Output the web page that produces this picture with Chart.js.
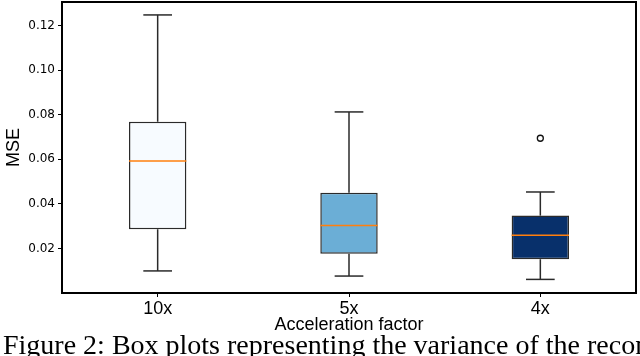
<!DOCTYPE html>
<html>
<head>
<meta charset="utf-8">
<script src="https://cdn.jsdelivr.net/npm/chart.js@4/dist/chart.umd.min.js"></script>
<style>
  html, body { margin: 0; padding: 0; background: #fff; overflow: hidden; }
  #wrap { position: relative; width: 640px; height: 356px; overflow: hidden; }
  #box { position: absolute; left: 0; top: 0; width: 640px; height: 356px; }
  #caption { position: absolute; left: 3px; top: 331px; white-space: nowrap;
    font-family: 'Liberation Serif', 'Times New Roman', serif; font-size: 28px; line-height: 28px; color: #000; }
</style>
</head>
<body>
<div id="wrap">
  <div id="box"><canvas id="c"></canvas></div>
  <div id="caption">Figure 2: Box plots representing the variance of the reconstruction</div>
</div>
<script>
// ---- data ----
const categories   = ['10x', '5x', '4x'];
const whiskerLow   = [0.0099, 0.0076, 0.0061];
const q1           = [0.0286, 0.0176, 0.0151];
const median       = [0.0592, 0.0303, 0.0259];
const q3           = [0.0768, 0.0450, 0.0347];
const whiskerHigh  = [0.1247, 0.0812, 0.0453];
const outliers     = [[], [], [0.0694]];
const yTicks       = [0.02, 0.04, 0.06, 0.08, 0.10, 0.12];
const boxColors    = ['#f7fbff', '#6baed6', '#08306b'];

// ---- styling constants ----
const BOX_W = 0.3;      // box width in category units
const CAP_W = 0.15;     // cap width in category units
const EDGE = '#2a2a2a';
const MEDIAN_COLOR = '#ff7f0e';

const datasets = [];

// medians (on top)
categories.forEach((c, i) => {
  datasets.push({
    type: 'line', order: 0,
    data: [{x: i - BOX_W / 2, y: median[i]}, {x: i + BOX_W / 2, y: median[i]}],
    borderColor: MEDIAN_COLOR, borderWidth: 1.6, pointRadius: 0, fill: false
  });
});

// boxes
datasets.push({
  type: 'bar', order: 2,
  data: categories.map((c, i) => ({x: i, y: [q1[i], q3[i]]})),
  backgroundColor: boxColors,
  borderColor: EDGE, borderWidth: 1.5, borderSkipped: false,
  categoryPercentage: 1, barPercentage: BOX_W
});

// whiskers and caps
categories.forEach((c, i) => {
  const seg = (pts) => datasets.push({
    type: 'line', order: 3, data: pts,
    borderColor: EDGE, borderWidth: 1.5, pointRadius: 0, fill: false
  });
  seg([{x: i, y: q3[i]}, {x: i, y: whiskerHigh[i]}]);
  seg([{x: i, y: q1[i]}, {x: i, y: whiskerLow[i]}]);
  seg([{x: i - CAP_W / 2, y: whiskerHigh[i]}, {x: i + CAP_W / 2, y: whiskerHigh[i]}]);
  seg([{x: i - CAP_W / 2, y: whiskerLow[i]}, {x: i + CAP_W / 2, y: whiskerLow[i]}]);
});

// outliers
const outPts = [];
outliers.forEach((arr, i) => arr.forEach(v => outPts.push({x: i, y: v})));
datasets.push({
  type: 'line', order: 1, data: outPts, showLine: false,
  pointStyle: 'circle', pointRadius: 3, pointBorderWidth: 1.3,
  pointBorderColor: '#111', pointBackgroundColor: 'rgba(255,255,255,0)'
});

const framePlugin = {
  id: 'frame',
  afterDraw(chart) {
    const {ctx, chartArea: a} = chart;
    ctx.save();
    ctx.strokeStyle = '#000';
    ctx.lineWidth = 2;
    ctx.strokeRect(a.left, a.top, a.right - a.left, a.bottom - a.top);
    ctx.restore();
  }
};

new Chart(document.getElementById('c'), {
  data: { datasets },
  plugins: [framePlugin],
  options: {
    responsive: true, maintainAspectRatio: false, animation: false, devicePixelRatio: 1,
    layout: { autoPadding: false, padding: { left: 0, right: 4, top: 2, bottom: 0 } },
    plugins: { legend: { display: false }, tooltip: { enabled: false } },
    scales: {
      x: {
        type: 'linear', min: -0.5, max: 2.5, offset: false,
        afterBuildTicks: s => { s.ticks = categories.map((c, i) => ({value: i})); },
        afterFit: s => { s.height = 63; s.paddingLeft = 0; s.paddingRight = 0; },
        border: { display: false },
        grid: { offset: false, drawOnChartArea: false, drawTicks: true, tickLength: 4, color: '#000', lineWidth: 1 },
        ticks: {
          callback: v => categories[v] ?? '',
          font: { family: 'Liberation Sans', size: 18 }, color: '#000', padding: 1,
          maxRotation: 0, autoSkip: false
        },
        title: {
          display: true, text: 'Acceleration factor',
          font: { family: 'Liberation Sans', size: 18 }, color: '#000',
          padding: { top: 0, bottom: 20 }
        }
      },
      y: {
        type: 'linear', min: 0, max: 0.1305,
        afterBuildTicks: s => { s.ticks = yTicks.map(v => ({value: v})); },
        afterFit: s => { s.width = 62; s.paddingTop = 0; s.paddingBottom = 0; },
        border: { display: false },
        grid: { drawOnChartArea: false, drawTicks: true, tickLength: 4, color: '#000', lineWidth: 1 },
        ticks: {
          callback: v => Number(v).toFixed(2),
          font: { family: 'DejaVu Sans', size: 12 }, color: '#000', padding: 3
        },
        title: {
          display: true, text: 'MSE',
          font: { family: 'Liberation Sans', size: 18 }, color: '#000',
          padding: { top: 3, bottom: 0 }
        }
      }
    }
  }
});
</script>
</body>
</html>
